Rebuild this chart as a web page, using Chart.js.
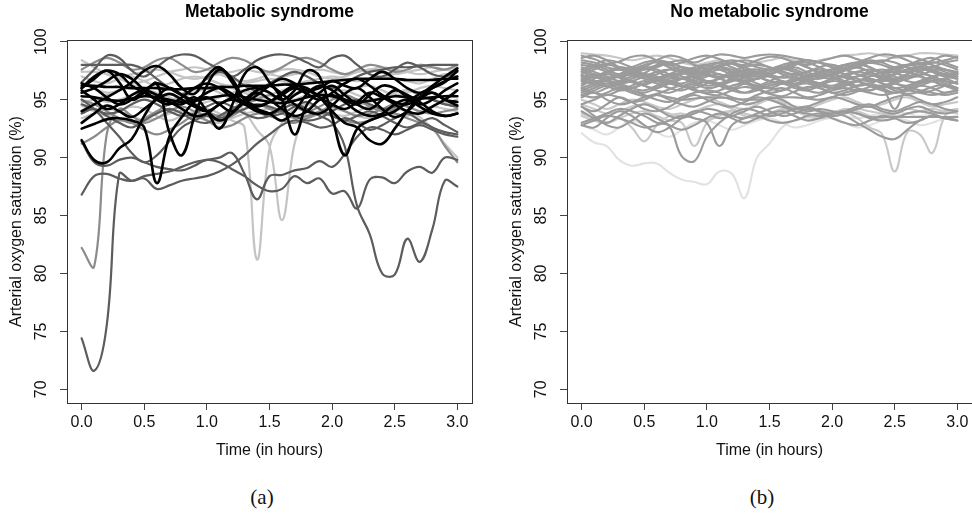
<!DOCTYPE html>
<html lang="en">
<head>
    <meta charset="UTF-8">
    <title>Arterial oxygen saturation</title>
    <script src="https://cdn.jsdelivr.net/npm/chart.js"></script>
    <style>
        body {
            margin: 0;
            width: 972px;
            height: 517px;
            overflow: hidden;
            position: relative;
            background: #fff;
        }
        canvas {
            position: absolute;
            top: 0;
        }
        #chartA { left: 0; }
        #chartB { left: 500px; }
        .sub {
            position: absolute;
            top: 487px;
            line-height: 20px;
            font-family: "Liberation Serif", "DejaVu Serif", serif;
            font-size: 21px;
            color: #111;
            transform: translateX(-50%);
        }
    </style>
</head>
<body>
    <canvas id="chartA" width="490" height="470"></canvas>
    <canvas id="chartB" width="490" height="470"></canvas>
    <div class="sub" style="left:262px">(a)</div>
    <div class="sub" style="left:762px">(b)</div>
    <script>
        const hours = [0.0, 0.1, 0.2, 0.3, 0.4, 0.5, 0.6, 0.7, 0.8, 0.9, 1.0, 1.1, 1.2, 1.3, 1.4, 1.5,
                       1.6, 1.7, 1.8, 1.9, 2.0, 2.1, 2.2, 2.3, 2.4, 2.5, 2.6, 2.7, 2.8, 2.9, 3.0];
        const xTicks = [0, 0.5, 1, 1.5, 2, 2.5, 3];
        const yTicks = [70, 75, 80, 85, 90, 95, 100];

        // (a) metabolic syndrome
        const msBlack = [
            [96.2,96.2,96.1,96.1,96.0,96.0,96.0,95.9,95.9,96.0,96.0,96.1,96.1,96.2,96.2,96.2,96.3,96.3,96.4,96.5,96.6,96.7,96.8,96.8,96.8,96.8,96.7,96.7,96.7,96.8,96.8],
            [95.3,95.2,95.0,94.9,95.1,95.3,95.2,95.0,94.8,94.9,95.1,95.3,95.4,95.2,95.0,94.8,94.7,94.9,95.2,95.4,95.3,95.0,94.8,94.9,95.1,95.3,95.2,95.1,95.2,95.3,95.3],
            [91.5,89.8,89.6,90.8,91.6,93.6,95.2,96.0,95.4,94.6,94.0,93.2,93.8,95.0,95.8,96.2,95.5,94.6,94.0,93.8,94.5,95.5,96.0,95.2,94.2,93.5,94.0,95.0,95.6,95.0,94.5],
            [92.5,92.9,93.3,93.4,93.2,92.6,87.8,91.8,93.5,94.8,95.2,94.6,94.0,94.8,95.6,95.0,94.2,93.6,94.0,95.0,95.4,94.8,94.0,93.6,93.8,94.6,95.0,94.4,93.8,93.6,93.8],
            [96.0,96.8,97.5,96.5,95.0,95.6,96.4,92.2,90.2,93.5,96.2,97.6,96.8,95.0,94.2,93.8,93.2,94.0,95.5,96.2,95.8,95.0,94.6,95.4,96.2,96.0,95.2,94.6,95.0,95.8,96.4],
            [94.0,94.6,95.2,95.8,96.5,97.5,97.9,97.2,96.0,95.5,97.0,97.8,96.5,95.0,94.5,94.8,95.4,96.0,95.5,95.0,95.6,96.4,96.8,96.2,95.4,94.8,94.6,95.2,96.0,96.6,97.0],
            [95.8,95.0,94.2,94.6,95.4,95.8,95.4,94.8,94.6,95.2,94.0,92.5,94.5,97.2,97.8,96.5,95.0,92.0,94.6,95.6,96.2,95.4,94.6,94.2,95.0,95.8,95.4,94.8,94.0,93.6,93.8],
            [93.0,93.8,94.5,94.0,93.5,94.2,95.0,95.5,95.0,94.4,94.0,94.6,95.2,95.8,96.0,95.6,95.0,95.8,97.5,97.0,93.5,90.2,92.5,93.2,93.6,94.0,94.8,95.5,96.0,96.5,97.5],
            [96.4,96.0,95.2,94.6,95.0,95.8,96.4,96.0,95.4,95.0,95.6,96.0,95.5,94.8,94.4,94.8,95.6,96.2,96.0,95.2,94.0,93.0,92.6,91.5,91.2,92.5,94.0,95.2,95.6,95.0,94.8],
            [95.6,96.0,96.6,97.2,96.8,95.8,95.0,94.6,95.2,96.0,96.4,96.0,95.2,94.8,95.4,96.2,96.8,96.4,95.8,96.0,96.6,96.2,96.0,96.8,97.4,96.8,96.0,95.6,96.2,97.0,97.7],
            [96.0,97.0,97.5,97.2,96.2,95.6,95.0,94.8,94.2,93.6,93.8,94.6,95.0,94.6,94.0,93.8,94.4,95.4,95.8,95.2,94.6,94.2,94.8,95.6,95.2,94.6,94.0,93.8,94.4,95.0,95.8]
        ];
        const msDark = [
            [74.4,71.6,75.5,88.6,88.0,88.2,87.3,87.6,88.0,88.2,88.4,88.8,89.4,90.2,91.2,92.0,92.8,93.2,93.0,92.6,92.8,93.4,93.0,92.4,92.8,93.4,93.8,93.2,92.6,92.2,92.0],
            [86.8,88.4,88.6,88.2,88.0,88.4,88.6,88.8,89.2,89.6,89.8,90.0,90.4,88.6,86.4,88.4,88.5,88.9,89.1,89.7,89.2,90.3,91.8,92.6,92.4,92.0,92.4,92.8,92.4,92.0,91.8],
            [91.4,89.6,89.3,89.8,90.0,89.6,89.2,89.0,88.9,89.3,89.8,89.6,89.0,88.4,87.6,87.1,87.3,88.4,87.8,88.2,86.9,87.1,85.6,88.1,88.3,87.8,88.8,89.2,88.7,90.0,89.8],
            [94.6,94.2,93.8,94.0,94.6,95.0,94.6,94.0,93.6,93.8,94.4,94.8,94.4,93.8,93.4,93.6,94.2,94.6,94.2,93.6,93.0,91.0,85.8,83.4,80.0,79.9,83.0,81.0,83.8,88.0,87.5],
            [98.0,98.0,98.0,98.0,98.0,97.6,96.8,96.0,95.5,96.0,96.8,97.4,97.0,96.2,95.8,96.4,97.0,97.4,97.0,96.4,96.0,96.4,97.0,97.4,97.6,97.8,97.8,97.9,98.0,98.0,98.0],
            [96.5,97.6,98.8,98.6,97.5,97.0,97.8,98.6,98.9,98.8,98.2,97.6,97.0,97.6,98.4,98.8,98.9,98.7,98.2,97.8,98.6,98.8,98.0,97.2,97.0,97.6,98.2,97.8,97.2,97.0,97.4],
            [93.8,94.2,93.6,93.0,92.6,93.2,93.8,94.2,93.8,93.2,93.0,93.6,94.2,94.6,94.0,93.6,93.8,94.4,94.8,94.2,93.6,93.2,93.6,94.0,93.6,93.0,92.6,93.0,93.4,92.8,92.2],
            [95.0,94.2,93.0,91.8,90.4,89.6,90.2,91.4,92.6,93.2,93.6,93.4,93.8,94.2,94.6,94.4,94.0,93.6,93.2,93.4,94.0,94.6,95.0,94.6,94.2,94.4,94.8,95.2,95.0,94.6,94.4]
        ];
        const msMid = [
            [95.0,94.6,94.0,93.4,93.0,93.4,94.0,94.6,95.0,94.6,94.0,93.6,94.0,94.6,95.0,95.4,95.0,94.4,94.0,94.4,95.0,95.4,95.0,94.4,94.0,94.2,94.8,95.2,95.0,94.6,94.4],
            [97.6,98.2,98.6,98.2,97.6,97.8,98.4,98.6,98.0,97.4,97.6,98.2,98.6,98.4,97.8,97.4,97.8,98.4,98.6,98.2,97.6,97.2,97.6,98.0,97.8,97.4,97.6,98.0,97.8,97.6,98.0],
            [82.2,80.6,92.0,94.2,93.6,93.0,93.4,94.0,94.4,94.0,93.6,93.2,93.6,94.2,94.6,94.2,93.8,93.4,93.6,94.0,94.4,94.0,93.6,93.8,94.2,94.6,94.4,94.0,93.8,94.0,94.2],
            [91.2,91.8,92.6,93.2,93.0,92.4,92.0,92.4,93.0,93.6,93.2,92.6,92.8,93.4,93.8,93.6,93.2,93.0,93.4,93.8,93.6,93.2,93.0,93.2,93.6,93.8,93.4,93.0,92.6,91.0,89.6]
        ];
        const msLight = [
            [94.5,94.0,93.6,94.0,94.4,94.2,93.6,93.2,93.6,94.0,94.2,93.8,93.2,92.6,81.2,90.8,93.0,94.2,94.6,94.2,93.8,93.6,94.0,94.4,94.2,93.8,93.6,94.0,94.4,94.2,94.0],
            [96.5,96.0,95.6,95.8,96.2,96.0,95.4,95.0,95.4,95.8,96.0,95.6,95.0,94.0,92.4,91.0,84.6,91.2,94.0,95.0,95.6,95.8,95.4,95.0,95.2,95.6,95.8,95.4,95.0,94.6,94.8],
            [98.4,97.8,97.2,96.8,96.4,96.6,97.0,97.4,97.6,97.8,97.6,97.2,96.8,96.6,96.8,97.2,97.6,97.6,97.4,97.0,96.8,97.0,97.4,97.6,97.4,97.2,97.4,97.6,97.8,97.6,97.4],
            [97.0,96.6,96.4,96.8,97.0,96.6,96.2,96.4,96.8,97.0,96.8,96.4,96.2,96.4,96.6,96.8,96.6,96.4,96.6,96.8,97.0,96.8,96.6,96.8,97.0,96.8,96.6,96.4,96.8,97.2,97.0],
            [93.4,93.8,94.2,94.0,93.6,93.2,93.4,93.8,94.0,93.6,93.2,93.0,93.4,93.8,94.0,94.2,94.0,93.6,93.4,93.8,94.2,94.0,93.6,93.4,93.8,94.2,94.0,93.5,92.5,91.2,90.0],
            [95.6,95.2,94.8,95.0,95.4,95.8,95.6,95.2,94.8,94.6,94.8,95.2,95.6,95.8,95.4,95.0,94.8,95.0,95.4,95.6,95.2,94.8,94.6,94.8,95.2,95.6,95.8,95.4,95.0,94.8,95.0],
            [97.4,97.4,97.2,97.0,97.2,97.4,97.6,97.4,97.0,96.8,97.0,97.2,97.4,97.6,97.4,97.2,97.0,97.2,97.4,97.6,97.4,97.2,97.4,97.6,97.8,97.6,97.4,97.2,97.4,97.6,97.8],
            [94.8,95.0,95.4,95.8,96.0,95.8,95.4,95.0,95.2,95.6,96.0,96.2,96.0,95.6,95.2,95.4,95.8,96.0,95.8,95.4,95.2,95.6,96.0,96.2,95.8,95.4,95.6,96.0,96.2,96.0,95.8]
        ];

        // (b) no metabolic syndrome
        const noMain = [
            [97.2,97.6,98.0,97.8,97.4,97.0,97.2,97.6,97.8,97.6,97.2,97.0,97.4,97.8,98.0,97.8,97.4,97.2,97.4,97.8,98.0,97.6,97.2,97.0,97.4,97.8,98.0,97.8,97.4,97.2,97.4],
            [96.6,96.4,96.8,97.2,97.4,97.0,96.6,96.4,96.8,97.2,97.4,97.2,96.8,96.6,96.8,97.2,97.4,97.0,96.6,96.4,96.8,97.2,97.4,97.2,96.8,96.6,96.8,97.2,97.0,96.6,96.4],
            [98.0,97.8,97.4,97.0,97.2,97.6,98.0,98.2,97.8,97.4,97.6,98.0,98.2,97.8,97.4,97.2,97.6,98.0,98.2,97.8,97.4,97.6,98.0,98.2,98.0,97.6,97.4,97.8,98.2,98.0,97.6],
            [95.8,96.2,96.6,96.4,96.0,95.8,96.2,96.6,96.8,96.4,96.0,96.2,96.6,96.8,96.4,96.0,95.8,96.2,96.6,96.4,96.0,96.2,96.6,96.8,96.4,96.0,95.8,96.2,96.6,96.8,96.4],
            [97.8,97.4,97.0,96.6,96.8,97.2,97.0,96.6,96.4,96.8,97.2,97.6,97.4,97.0,96.8,97.2,97.6,97.8,97.4,97.0,96.8,97.0,97.4,97.6,97.2,96.8,97.0,97.4,97.8,97.6,97.2],
            [96.2,96.8,97.4,97.8,97.6,97.2,96.8,97.0,97.4,97.8,98.0,97.6,97.2,97.0,97.2,97.6,97.8,97.4,97.0,97.2,97.6,98.0,97.8,97.4,97.0,96.8,97.2,97.6,97.8,97.4,97.0],
            [97.0,97.2,96.8,96.2,96.0,96.4,96.8,97.2,97.0,96.6,96.2,96.4,96.8,97.2,97.4,97.0,96.6,96.4,96.8,97.2,97.0,96.6,96.2,96.4,96.8,97.2,97.4,97.0,96.6,96.8,97.2],
            [94.6,95.0,95.4,95.2,94.8,95.0,95.4,95.2,95.0,95.1,95.2,95.2,95.1,95.0,95.0,95.1,95.2,95.2,95.1,95.0,95.2,95.6,95.8,95.6,95.4,95.6,95.8,95.6,95.4,95.6,95.8],
            [98.6,98.8,98.4,97.8,97.4,97.8,98.4,98.8,98.6,98.2,98.6,98.9,98.8,98.6,98.8,98.9,98.8,98.6,98.4,98.2,98.0,97.8,98.2,98.6,98.9,98.8,98.4,98.0,98.4,98.8,98.6],
            [96.0,95.6,95.4,95.8,96.2,96.6,96.4,96.0,95.8,96.2,96.6,96.4,96.0,95.6,95.8,96.2,96.4,96.0,95.8,96.2,96.6,96.4,96.0,95.8,96.2,96.4,96.0,95.6,95.8,96.2,96.6],
            [97.6,98.0,98.4,98.2,97.8,97.6,97.8,98.2,98.4,98.0,97.6,97.8,98.2,98.4,98.2,97.8,97.6,98.0,98.4,98.2,97.8,97.6,98.0,98.4,98.2,97.8,98.0,98.4,98.6,98.2,97.8],
            [95.4,95.2,95.6,96.0,95.8,95.4,95.0,94.8,95.2,95.6,95.8,95.6,95.2,95.0,95.4,95.8,96.0,95.6,95.2,95.4,95.8,96.0,95.8,95.8,96.0,94.2,96.0,95.8,95.6,95.4,95.6],
            [94.4,94.0,94.6,95.2,94.8,94.2,94.0,94.4,95.0,95.4,95.0,94.6,94.4,94.8,95.2,95.0,94.6,94.2,94.4,94.8,95.2,95.0,94.6,94.4,94.8,95.2,95.4,95.0,94.6,94.8,95.2],
            [94.0,93.4,93.0,93.6,94.2,94.6,94.2,93.6,93.4,93.8,94.2,94.0,93.6,93.4,93.8,94.2,94.4,94.0,93.8,93.6,93.8,94.0,93.8,93.5,93.5,93.5,93.5,93.5,93.5,93.5,93.5],
            [93.0,93.4,93.8,94.2,94.0,93.6,93.0,92.7,90.1,89.7,91.8,93.0,93.8,94.2,94.0,93.6,93.8,94.2,94.4,94.0,93.8,94.0,94.4,94.6,94.2,94.0,94.4,94.8,94.6,94.2,94.0],
            [92.8,93.2,93.6,93.4,93.0,92.6,92.8,93.2,93.6,93.4,93.0,91.0,92.8,93.4,93.6,93.2,93.0,93.2,93.6,93.8,93.4,93.0,92.8,93.2,93.6,93.4,93.0,93.2,93.6,93.4,93.2],
            [95.2,95.6,95.0,94.6,94.8,95.2,95.4,95.0,94.6,94.4,94.8,95.2,95.0,94.6,94.8,95.2,95.0,94.4,94.0,94.2,94.0,93.6,93.0,92.4,91.8,91.6,92.4,93.2,93.6,93.4,93.5],
            [94.4,93.6,92.8,92.6,93.2,93.8,93.4,92.8,92.4,92.8,93.4,93.8,93.4,93.0,93.4,93.8,94.0,93.6,93.2,93.4,93.8,94.0,93.8,93.4,93.2,93.4,93.8,94.0,93.8,93.4,93.2],
            [96.8,97.0,97.4,97.6,97.2,96.8,96.6,96.8,97.2,97.4,97.2,96.8,96.6,97.0,97.4,97.6,97.2,96.8,96.6,97.0,97.4,97.6,97.2,96.8,96.6,96.8,97.2,97.6,97.4,97.0,96.8],
            [97.4,97.0,96.6,96.4,96.6,97.0,97.4,97.6,97.4,97.0,96.6,96.8,97.2,97.4,97.0,96.6,96.4,96.6,97.0,97.4,97.6,97.2,96.8,96.6,96.8,97.2,97.6,97.4,97.0,96.6,96.4],
            [96.4,96.6,96.2,95.8,96.0,96.4,96.8,96.6,96.2,96.0,96.4,96.8,97.0,96.6,96.2,96.0,96.4,96.8,96.6,96.2,96.0,96.2,96.6,96.8,96.4,96.0,96.2,96.6,96.8,96.4,96.0],
            [98.2,98.0,97.6,97.2,97.6,98.0,98.2,97.8,97.4,97.6,98.0,98.2,97.8,97.4,97.2,97.6,98.0,98.2,97.8,97.4,97.6,98.0,98.2,97.8,97.4,97.6,98.0,98.2,98.0,97.6,97.4],
            [95.6,96.0,96.4,96.2,95.8,95.6,96.0,96.4,96.2,95.8,95.6,95.8,96.2,96.4,96.0,95.6,95.8,96.2,96.4,96.0,95.6,95.8,96.2,96.4,96.0,95.6,95.8,96.2,96.0,95.6,95.8],
            [97.0,96.6,96.8,97.2,97.6,97.8,97.4,97.0,96.8,97.2,97.6,97.8,97.4,97.0,96.8,97.2,97.6,97.4,97.0,96.8,97.2,97.6,97.8,97.4,97.0,97.2,97.6,97.8,97.4,97.0,97.2],
            [92.8,92.6,93.4,94.0,93.6,92.8,92.2,92.6,93.4,94.0,93.8,93.4,93.6,94.0,94.4,94.0,93.6,93.8,94.2,94.0,93.6,93.8,94.2,94.4,94.0,93.8,94.2,94.4,94.0,93.8,94.0],
            [97.6,97.2,96.8,97.0,97.4,97.8,97.6,97.2,96.8,97.0,97.4,97.8,97.6,97.2,97.0,97.4,97.8,97.6,97.2,97.0,97.2,97.6,97.8,97.4,97.0,97.2,97.6,97.8,97.6,97.2,97.0],
            [96.0,96.4,96.8,97.0,96.6,96.2,96.0,96.4,96.8,97.0,96.6,96.2,96.0,96.4,96.8,97.0,96.6,96.2,96.0,96.4,96.8,97.0,96.6,96.2,96.0,96.4,96.8,97.0,96.6,96.2,96.0],
            [98.4,98.2,97.8,97.6,97.8,98.2,98.4,98.2,97.8,97.6,97.8,98.2,98.4,98.2,97.8,97.6,97.8,98.2,98.4,98.2,97.8,97.6,97.8,98.2,98.4,98.2,97.8,97.6,97.8,98.2,98.4],
            [96.8,96.4,96.2,96.6,97.0,97.2,96.8,96.4,96.2,96.6,97.0,97.2,96.8,96.4,96.2,96.6,97.0,97.2,96.8,96.4,96.2,96.6,97.0,97.2,96.8,96.4,96.2,96.6,97.0,97.2,96.8],
            [95.8,95.6,96.0,96.4,96.6,96.2,95.8,95.6,96.0,96.4,96.6,96.2,95.8,95.6,96.0,96.4,96.6,96.2,95.8,95.6,96.0,96.4,96.6,96.2,95.8,95.6,96.0,96.4,96.6,96.2,95.8],
            [97.4,97.8,98.1,97.7,97.1,97.3,97.9,98.0,97.5,97.2,97.5,97.9,98.1,97.6,97.3,97.2,97.7,98.1,97.8,97.3,97.1,97.5,98.0,97.8,97.3,97.4,97.9,98.1,97.6,97.1,97.3],
            [96.6,97.0,97.2,96.9,96.5,96.3,96.7,97.1,97.3,96.9,96.5,96.4,96.8,97.2,97.0,96.6,96.4,96.7,97.1,97.3,96.9,96.5,96.6,97.0,97.3,97.0,96.6,96.5,96.9,97.2,97.0],
            [95.4,95.8,96.2,96.0,95.6,95.3,95.5,95.9,96.2,95.9,95.5,95.4,95.8,96.1,95.9,95.5,95.3,95.7,96.1,96.0,95.6,95.4,95.7,96.1,96.2,95.8,95.5,95.7,96.1,96.3,96.0],
            [98.8,98.5,98.1,98.3,98.7,98.8,98.4,98.0,98.2,98.6,98.8,98.5,98.1,98.0,98.4,98.7,98.6,98.2,98.0,98.3,98.6,98.8,98.5,98.2,98.3,98.7,98.8,98.5,98.2,98.4,98.7],
            [97.1,96.9,97.3,97.6,97.4,97.0,96.9,97.2,97.6,97.5,97.1,96.9,97.1,97.5,97.6,97.2,96.9,97.0,97.4,97.6,97.3,96.9,97.0,97.4,97.6,97.3,97.0,97.1,97.5,97.6,97.3]
        ];
        const noLight = [
            [93.8,93.4,93.0,93.4,93.8,94.0,93.6,93.2,93.0,91.0,93.0,93.8,94.0,93.6,93.4,93.8,94.2,94.0,93.6,93.4,93.6,94.0,94.2,94.0,93.8,93.6,93.8,94.0,94.2,94.0,93.8],
            [94.6,94.2,93.8,94.0,94.4,94.6,94.2,93.8,93.6,94.0,94.4,94.6,94.2,93.8,93.6,93.8,94.2,94.4,94.2,94.0,94.0,94.0,93.4,92.6,92.0,88.8,92.2,92.0,90.4,93.6,94.2],
            [99.0,98.9,98.8,98.6,98.4,98.6,98.8,98.6,98.2,98.0,98.2,98.4,98.2,98.0,98.2,98.4,98.6,98.4,98.2,98.4,98.6,98.8,98.9,99.0,98.8,98.6,98.8,99.0,99.0,98.9,98.8],
            [95.0,94.6,94.2,94.6,95.0,94.8,94.4,94.2,94.6,95.0,95.2,94.8,94.4,94.2,94.6,95.0,94.8,94.4,94.2,94.6,95.0,95.2,94.8,94.4,94.6,95.0,95.2,94.8,94.4,94.6,94.8],
            [93.6,93.2,93.0,93.4,92.6,91.4,92.8,93.6,93.8,93.4,93.2,93.6,94.0,93.8,93.4,93.6,94.0,94.2,93.8,93.6,93.8,94.2,94.0,93.6,93.4,93.8,94.2,94.0,93.8,94.0,94.2]
        ];
        const noFaint = [
            [92.1,91.3,91.0,89.8,89.3,89.5,89.5,88.7,88.1,87.9,87.7,88.8,88.6,86.5,90.0,91.2,92.6,93.2,93.4,93.6,93.8,93.6,93.4,93.6,93.8,94.0,93.8,93.6,93.8,94.0,94.2],
            [92.8,92.4,92.0,92.6,93.2,92.8,92.2,91.8,92.4,93.0,93.2,92.8,92.4,92.8,93.2,93.4,93.0,92.6,92.8,93.2,93.4,93.0,92.6,92.8,93.2,93.4,93.2,92.8,93.0,93.4,93.6]
        ];

        const fontFamily = '"Liberation Sans", Arial, Helvetica, sans-serif';

        // draws the full frame round the plot region
        const boxPlugin = {
            id: 'box',
            afterDatasetsDraw(chart) {
                const { ctx, chartArea } = chart;
                ctx.save();
                ctx.strokeStyle = '#333';
                ctx.lineWidth = 1;
                ctx.strokeRect(Math.round(chartArea.left) + 0.5, Math.round(chartArea.top) + 0.5,
                               Math.round(chartArea.right - chartArea.left), Math.round(chartArea.bottom - chartArea.top));
                ctx.restore();
            }
        };

        function buildDatasets(groups) {
            const datasets = [];
            groups.forEach(group => {
                group.curves.forEach(curve => {
                    datasets.push({
                        data: curve,
                        borderColor: group.color,
                        borderWidth: group.width,
                        pointRadius: 0,
                        tension: 0.4,
                        fill: false,
                        borderCapStyle: 'round',
                        borderJoinStyle: 'round'
                    });
                });
            });
            return datasets;
        }

        function createChart(id, title, groups) {
            const axisGrid = { drawOnChartArea: false, drawTicks: true, tickLength: 7, tickColor: '#444', tickWidth: 1 };
            return new Chart(document.getElementById(id), {
                type: 'line',
                data: { labels: hours, datasets: buildDatasets(groups) },
                options: {
                    responsive: false,
                    animation: false,
                    events: [],
                    layout: { padding: { left: 0, right: 18, top: 0, bottom: 7 } },
                    plugins: {
                        legend: { display: false },
                        tooltip: { enabled: false },
                        title: {
                            display: true,
                            text: title,
                            fullSize: false,
                            color: '#000',
                            font: { family: fontFamily, size: 17.5, weight: 'bold' },
                            padding: { top: 1.5, bottom: 17.5 }
                        }
                    },
                    scales: {
                        x: {
                            type: 'linear',
                            min: -0.117,
                            max: 3.117,
                            afterBuildTicks: scale => { scale.ticks = xTicks.map(v => ({ value: v })); },
                            afterFit: scale => { scale.height = 60; },
                            grid: axisGrid,
                            border: { display: false },
                            ticks: {
                                color: '#111',
                                font: { family: fontFamily, size: 16 },
                                padding: 3,
                                maxRotation: 0,
                                autoSkip: false,
                                callback: v => v.toFixed(1)
                            },
                            title: {
                                display: true,
                                text: 'Time (in hours)',
                                color: '#111',
                                font: { family: fontFamily, size: 16 },
                                padding: { top: 0, bottom: 2.4 }
                            }
                        },
                        y: {
                            min: 68.82,
                            max: 100.15,
                            afterBuildTicks: scale => { scale.ticks = yTicks.map(v => ({ value: v })); },
                            afterFit: scale => { scale.width = 67; },
                            grid: axisGrid,
                            border: { display: false },
                            ticks: {
                                color: '#111',
                                font: { family: fontFamily, size: 16 },
                                minRotation: 90,
                                maxRotation: 90,
                                crossAlign: 'center',
                                padding: 5,
                                callback: v => String(v)
                            },
                            title: {
                                display: true,
                                text: 'Arterial oxygen saturation (%)',
                                color: '#111',
                                font: { family: fontFamily, size: 16 },
                                padding: { top: 7.4, bottom: 0 }
                            }
                        }
                    }
                },
                plugins: [boxPlugin]
            });
        }

        // earlier groups are drawn on top
        createChart('chartA', 'Metabolic syndrome', [
            { curves: msBlack, color: '#000000', width: 2.6 },
            { curves: msDark, color: '#5c5c5c', width: 2.2 },
            { curves: msMid, color: '#8c8c8c', width: 2.2 },
            { curves: msLight, color: '#c4c4c4', width: 2.2 }
        ]);

        createChart('chartB', 'No metabolic syndrome', [
            { curves: noMain, color: '#9b9b9b', width: 2.1 },
            { curves: noLight, color: '#c8c8c8', width: 2.1 },
            { curves: noFaint, color: '#e2e2e2', width: 2.1 }
        ]);
    </script>
</body>
</html>
